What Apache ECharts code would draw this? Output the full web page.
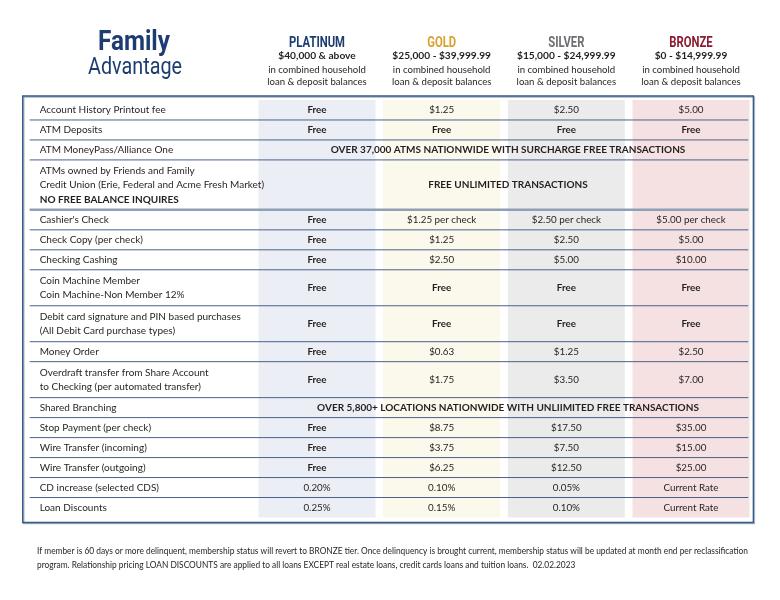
<!DOCTYPE html>
<html><head><meta charset="utf-8">
<script src="https://cdn.jsdelivr.net/npm/echarts@6/dist/echarts.min.js"></script>
<style>html,body{margin:0;padding:0;background:#fff}#c{width:780px;height:600px}</style>
</head><body><div id="c"></div>
<script>
// ---------------- data ----------------
const tiers = ['PLATINUM', 'GOLD', 'SILVER', 'BRONZE'];
const tierRanges = ['$40,000 & above', '$25,000 - $39,999.99', '$15,000 - $24,999.99', '$0 - $14,999.99'];
const tierNotes = ['in combined household', 'loan & deposit balances'];
const features = [
  'Account History Printout fee',
  'ATM Deposits',
  'ATM MoneyPass/Alliance One',
  'ATMs owned by Friends and Family\nCredit Union (Erie, Federal and Acme Fresh Market)\nNO FREE BALANCE INQUIRES',
  "Cashier's Check",
  'Check Copy (per check)',
  'Checking Cashing',
  'Coin Machine Member\nCoin Machine-Non Member 12%',
  'Debit card signature and PIN based purchases\n(All Debit Card purchase types)',
  'Money Order',
  'Overdraft transfer from Share Account\nto Checking (per automated transfer)',
  'Shared Branching',
  'Stop Payment (per check)',
  'Wire Transfer (incoming)',
  'Wire Transfer (outgoing)',
  'CD increase (selected CDS)',
  'Loan Discounts'
];
const platinum = ['Free','Free','','','Free','Free','Free','Free','Free','Free','Free','','Free','Free','Free','0.20%','0.25%'];
const gold     = ['$1.25','Free','','','$1.25 per check','$1.25','$2.50','Free','Free','$0.63','$1.75','','$8.75','$3.75','$6.25','0.10%','0.15%'];
const silver   = ['$2.50','Free','','','$2.50 per check','$2.50','$5.00','Free','Free','$1.25','$3.50','','$17.50','$7.50','$12.50','0.05%','0.10%'];
const bronze   = ['$5.00','Free','','','$5.00 per check','$5.00','$10.00','Free','Free','$2.50','$7.00','','$35.00','$15.00','$25.00','Current Rate','Current Rate'];
const spanned  = ['','','OVER 37,000 ATMS NATIONWIDE WITH SURCHARGE FREE TRANSACTIONS','FREE UNLIMITED TRANSACTIONS','','','','','','','','OVER 5,800+ LOCATIONS NATIONWIDE WITH UNLIIMITED FREE TRANSACTIONS','','','','',''];
const titleLines = ['Family', 'Advantage'];
const footnote = [
  'If member is 60 days or more delinquent, membership status will revert to BRONZE tier. Once delinquency is brought current, membership status will be updated at month end per reclassification',
  'program. Relationship pricing LOAN DISCOUNTS are applied to all loans EXCEPT real estate loans, credit cards loans and tuition loans.  02.02.2023'
];

// ---------------- layout / style ----------------
const tierCols = [platinum, gold, silver, bronze];
const tierColors = ['#1d3d72', '#d9a032', '#6d6e71', '#8c1a31'];
const tierBg = ['#ebeef5', '#fbf8ec', '#ebebeb', '#f5e1e1'];
const BODY = 'Lato, "Noto Sans", sans-serif';
const HEAD = 'Roboto, "Liberation Sans", sans-serif';
const ink = '#231f20';
const navy = '#1d3d72';

const mctx = document.createElement('canvas').getContext('2d');
function textW(t, font) { mctx.font = font; return mctx.measureText(t).width; }
// horizontal condensing to mimic the condensed face of the original
const nameScale = 56 / textW('PLATINUM', 'bold 14px ' + HEAD);
const famScale = 72 / textW(titleLines[0], 'bold 27px ' + HEAD);
const advScale = 94 / textW(titleLines[1], 'normal 24px ' + HEAD);
const footScale = 711 / textW(footnote[0], 'normal 9px ' + BODY);

const rowH = features.map(f => { const n = f.split('\n').length; return n === 1 ? 20 : (n === 2 ? 36 : 50); });
const bounds = [0];
rowH.forEach(h => bounds.push(bounds[bounds.length - 1] + h));
const total = bounds[bounds.length - 1];

function renderRow(params, api) {
  const i = params.dataIndex;
  const cs = params.coordSys;
  const yTop = api.coord([0, bounds[i]])[1];
  const yBot = api.coord([0, bounds[i + 1]])[1];
  const mid = (yTop + yBot) / 2;
  const children = [];
  const lines = features[i].split('\n');
  children.push({
    type: 'text', x: cs.x - 215, y: mid,
    style: {
      text: lines.map(l => (l === l.toUpperCase() ? '{b|' : '{n|') + l + '}').join('\n'),
      align: 'left', verticalAlign: 'middle', lineHeight: 14.5,
      rich: {
        n: { fontFamily: BODY, fontSize: 10, fill: ink, lineHeight: 14.5 },
        b: { fontFamily: BODY, fontSize: 10, fontWeight: 'bold', fill: ink, lineHeight: 14.5 }
      }
    }
  });
  if (spanned[i]) {
    const cx = (api.coord([0, 0])[0] + api.coord([3, 0])[0]) / 2 + 4;
    children.push({ type: 'text', x: cx, y: mid, style: { text: spanned[i], align: 'center', verticalAlign: 'middle', fontFamily: BODY, fontSize: 10, fontWeight: 'bold', fill: ink } });
  } else {
    tierCols.forEach((col, k) => {
      const v = col[i];
      children.push({ type: 'text', x: api.coord([k, 0])[0], y: mid, style: { text: v, align: 'center', verticalAlign: 'middle', fontFamily: BODY, fontSize: 9.8, fontWeight: v === 'Free' ? 'bold' : 'normal', fill: ink } });
    });
  }
  if (i < features.length - 1) {
    const special = i === 3;
    children.push({ type: 'line', shape: { x1: cs.x - 225, y1: yBot, x2: cs.x + cs.width - 5, y2: yBot },
      style: { stroke: special ? '#8e9fb6' : '#4a6288', lineWidth: special ? 2.5 : 1 } });
  }
  return { type: 'group', children };
}

function renderHeader(params, api) {
  const i = params.dataIndex;
  const cs = params.coordSys;
  const cx = api.coord([i, 0])[0];
  return { type: 'group', children: [
    { type: 'text', x: cx, y: cs.y - 57, scaleX: nameScale, style: { text: tiers[i], align: 'center', verticalAlign: 'middle', fontFamily: HEAD, fontSize: 14, fontWeight: 'bold', fill: tierColors[i] } },
    { type: 'text', x: cx, y: cs.y - 44, style: { text: tierRanges[i], align: 'center', verticalAlign: 'middle', fontFamily: BODY, fontSize: 10.2, fontWeight: 'bold', fill: ink } },
    { type: 'text', x: cx, y: cs.y - 30, style: { text: tierNotes[0], align: 'center', verticalAlign: 'middle', fontFamily: BODY, fontSize: 9.6, fill: ink } },
    { type: 'text', x: cx, y: cs.y - 18, style: { text: tierNotes[1], align: 'center', verticalAlign: 'middle', fontFamily: BODY, fontSize: 9.6, fill: ink } }
  ]};
}

function renderFrame(params, api) {
  const cs = params.coordSys;
  const shape = { x: cs.x - 232, y: cs.y - 4, width: cs.width + 232, height: cs.height + 9 };
  return { type: 'group', children: [
    { type: 'rect', shape, x: 1, y: 1, style: { fill: 'none', stroke: '#aab2bd', lineWidth: 1.6 } },
    { type: 'rect', shape, style: { fill: 'none', stroke: '#33598a', lineWidth: 1.3 } }
  ]};
}

const chart = echarts.init(document.getElementById('c'), null, { renderer: 'canvas' });

chart.setOption({
  animation: false,
  backgroundColor: '#ffffff',
  grid: { left: 254.67, right: 26.67, top: 100, bottom: 82.5 },
  xAxis: {
    type: 'category', data: tiers, position: 'top', boundaryGap: true,
    axisLine: { show: false }, axisTick: { show: false }, splitLine: { show: false }, axisLabel: { show: false }
  },
  yAxis: { type: 'value', inverse: true, min: 0, max: total, show: false },
  series: [
    { type: 'bar', barWidth: '93.85%', silent: true,
      data: tiers.map((t, i) => ({ value: total, itemStyle: { color: tierBg[i] } })) },
    { type: 'custom', renderItem: renderRow, data: features.map((f, i) => [i]), silent: true, z: 3 },
    { type: 'custom', renderItem: renderHeader, data: tiers.map((t, i) => [i]), silent: true, z: 3, clip: false },
    { type: 'custom', renderItem: renderFrame, data: [[0]], silent: true, z: 4, clip: false }
  ],
  graphic: [
    { type: 'text', x: 134, y: 43, scaleX: famScale, style: { text: titleLines[0], align: 'center', verticalAlign: 'middle', fontFamily: HEAD, fontSize: 27, fontWeight: 'bold', fill: navy } },
    { type: 'text', x: 135, y: 68, scaleX: advScale, style: { text: titleLines[1], align: 'center', verticalAlign: 'middle', fontFamily: HEAD, fontSize: 24, fill: navy } },
    { type: 'text', x: 37, y: 544, scaleX: footScale, originX: 0, style: { text: footnote.join('\n'), align: 'left', verticalAlign: 'top', lineHeight: 14, fontFamily: BODY, fontSize: 9, fill: ink } }
  ]
});
</script></body></html>
